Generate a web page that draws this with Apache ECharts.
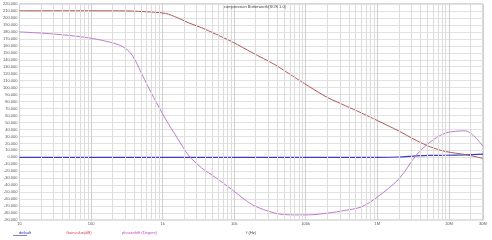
<!DOCTYPE html>
<html><head><meta charset="utf-8">
<script src="https://cdn.jsdelivr.net/npm/echarts@6/dist/echarts.min.js"></script>
<style>html,body{margin:0;padding:0;background:#fff}#c{width:492px;height:240px}</style>
</head><body><div id="c"></div>
<script>
const freqs = [10,30,80,140,250,340,420,510,750,1100,1600,2300,3500,5500,9500,18000,37000,65000,110000,200000,360000,600000,1000000,2000000,3500000,5500000,9000000,17000000,30000000];
const defaultVals = [0,0,0,0,0,0,0,0,0,0,0,0,0,0,0,0,0,0,0,0,0,0,0,0.5,2,2.8,3,3.5,4.5];
const gainVals = [210.3,210.3,210.3,210.3,210.2,210,209.6,209.2,208.2,206.5,200.5,193,186,177,165.4,150,133,117,102,86,74,63.7,52.9,37.8,24.3,15.1,8.4,4,-1.5];
const phaseVals = [180,177,172.4,168,161,152,138,120,86,55,28,3,-15,-29,-47,-68,-80,-82.5,-82.5,-80,-76,-71,-57,-31,3,22,35,38,16];
const seriesNames = ['default','Gainvalue(dB)','phaseshift (Degree)'];
const titleText = 'compression Butterworth(SOS 1.0)';
const xName = 'f (Hz)';

const minorLines = [];
for (let e = 1; e <= 7; e++) {
  for (let m = 2; m <= 9; m++) {
    const v = m * Math.pow(10, e);
    if (v < 30000000) minorLines.push({xAxis: v});
  }
}
function fmtHz(v) {
  if (v >= 1e6) return (v / 1e6) + 'M';
  if (v >= 1e3) return (v / 1e3) + 'k';
  return String(v);
}
const pairs = vals => freqs.map((f, i) => [f, vals[i]]);
const chart = echarts.init(document.getElementById('c'), null, {renderer: 'canvas'});
chart.setOption({
  animation: false,
  backgroundColor: '#fff',
  title: {text: titleText, left: 250, top: 0, textAlign: 'center',
    textStyle: {fontSize: 4, fontWeight: 'normal', color: '#444', fontFamily: 'Liberation Sans'}},
  grid: {left: 17, right: 9, top: 4, bottom: 13, show: true, borderColor: '#b0b0b0', borderWidth: 1},
  legend: [
    {data: [{name: seriesNames[0], textStyle: {color: '#2a2ab8'}}], left: 13, bottom: 5, itemWidth: 0, itemHeight: 0, padding: 0,
      textStyle: {fontSize: 4, fontFamily: 'Liberation Sans'}},
    {data: [{name: seriesNames[1], textStyle: {color: '#d04848'}}], left: 60, bottom: 5, itemWidth: 0, itemHeight: 0, padding: 0,
      textStyle: {fontSize: 4, fontFamily: 'Liberation Sans'}},
    {data: [{name: seriesNames[2], textStyle: {color: '#c048c8'}}], left: 116, bottom: 5, itemWidth: 0, itemHeight: 0, padding: 0,
      textStyle: {fontSize: 4, fontFamily: 'Liberation Sans'}}
  ],
  graphic: [{type: 'rect', left: 13, bottom: 4, shape: {width: 14, height: 0.6}, style: {fill: '#2a2ab8'}, silent: true}],
  xAxis: {
    type: 'log', logBase: 10, min: 10, max: 30000000,
    name: xName, nameLocation: 'middle', nameGap: 10,
    nameTextStyle: {fontSize: 4, color: '#444', fontFamily: 'Liberation Sans'},
    axisLine: {show: false}, axisTick: {show: false},
    axisLabel: {fontSize: 4, color: '#555', margin: 2, formatter: fmtHz, fontFamily: 'Liberation Sans'},
    splitLine: {show: true, lineStyle: {color: '#cfcfcf', width: 1}}
  },
  yAxis: {
    type: 'value', min: -90, max: 220, interval: 10,
    axisLine: {show: false}, axisTick: {show: false},
    axisLabel: {fontSize: 4, color: '#555', margin: 2, formatter: v => v.toFixed(3), fontFamily: 'Liberation Sans'},
    splitLine: {show: true, lineStyle: {color: '#e2e2e2', width: 1}}
  },
  series: [
    {name: seriesNames[0], type: 'line', data: pairs(defaultVals), showSymbol: false, smooth: 0.3,
      lineStyle: {color: '#3a3ad0', width: 1.2}, itemStyle: {color: '#3a3ad0'}, z: 3,
      markLine: {silent: true, symbol: 'none', label: {show: false}, animation: false,
        lineStyle: {color: '#dcdcdc', width: 1, type: 'solid'}, data: minorLines}},
    {name: seriesNames[1], type: 'line', data: pairs(gainVals), showSymbol: false, smooth: 0.3,
      lineStyle: {color: '#b05a55', width: 1}, itemStyle: {color: '#b05a55'}, z: 4},
    {name: seriesNames[2], type: 'line', data: pairs(phaseVals), showSymbol: false, smooth: 0.3,
      lineStyle: {color: '#c07ad0', width: 1}, itemStyle: {color: '#c07ad0'}, z: 4}
  ]
});
</script></body></html>
